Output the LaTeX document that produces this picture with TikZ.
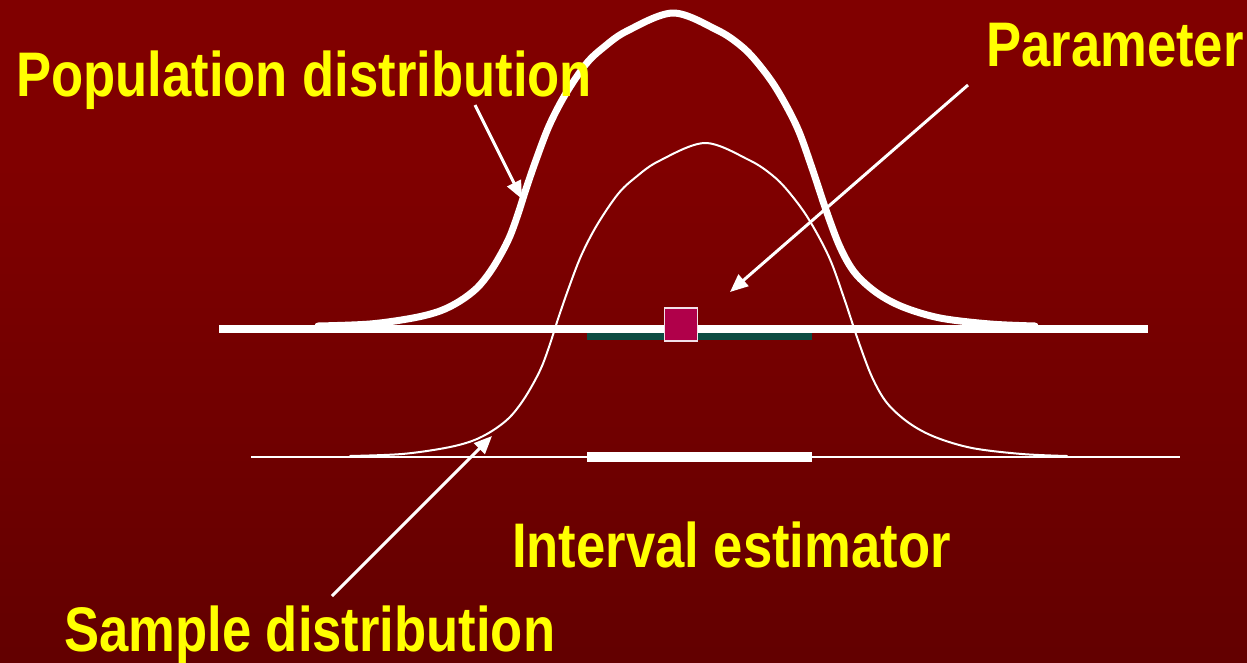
\documentclass[tikz,border=0pt]{standalone}
\usepackage{fontspec}
\newfontfamily\labfont[FakeStretch=0.835]{Liberation Sans}
\usetikzlibrary{arrows.meta}
\definecolor{labyellow}{RGB}{255,255,0}
\definecolor{tealbar}{RGB}{12,76,66}
\definecolor{sqfill}{RGB}{176,0,74}
\definecolor{sqedge}{RGB}{242,224,232}
\pgfdeclareverticalshading{bgshade}{100bp}{rgb(0bp)=(0.31,0,0); rgb(62bp)=(0.5,0,0); rgb(100bp)=(0.5,0,0)}
\tikzset{
  lab/.style={anchor=base west, inner sep=0pt, text=labyellow, font=\labfont\bfseries\fontsize{63}{70}\selectfont},
  pointer/.style={draw=white, line width=3pt, -{Triangle[length=18pt,width=15pt]}},
  bell/.pic={
    \draw[white, line cap=round, line join=round, pic actions] plot[smooth, tension=0.55] coordinates {
      (318,326) (370,324) (413,318) (440,311) (460,301) (477,288) (490,272) (501,254)
      (510,236) (518,214) (526,189) (536,160) (549,126) (565,95) (586,64) (604,47)
      (627,31) (673,13)
      (717,30) (740,45) (756,61) (776,88) (797,127) (812,168) (826,210) (840,247)
      (855,273) (877,293) (903,307) (940,318) (990,324) (1035,326)};
  }
}
\begin{document}
\begin{tikzpicture}[x=1pt,y=-1pt]
\useasboundingbox (0,0) rectangle (1247,662);
\fill[shading=bgshade] (0,0) rectangle (1247,662);
% upper axis and teal bar
\coordinate (tealL) at (587,336.5);
\coordinate (tealR) at (812,336.5);
\draw[tealbar, line width=7pt] (tealL) -- (tealR);
\coordinate (axL) at (219,329);
\coordinate (axR) at (1148,329);
\draw[white, line width=8pt] (axL) -- (axR);
% lower axis and interval bar
\coordinate (lowL) at (251,457);
\coordinate (lowR) at (1180,457);
\draw[white, line width=2pt] (lowL) -- (lowR);
\coordinate (intL) at (587,457);
\coordinate (intR) at (812,457);
\draw[white, line width=10pt] (intL) -- (intR);
% curves
\pic[line width=7pt] at (0,0) {bell};
\pic[line width=2pt] at (32,130) {bell};
% parameter square
\node[draw=sqedge, fill=sqfill, line width=1.5pt, minimum size=33pt, inner sep=0pt] (param) at (681,324.5) {};
% arrows
\coordinate (a1s) at (475,105);
\coordinate (a1e) at (522,199);
\draw[pointer] (a1s) -- (a1e);
\coordinate (a2s) at (968,85);
\coordinate (a2e) at (730,292);
\draw[pointer] (a2s) -- (a2e);
\coordinate (a3s) at (332,596);
\coordinate (a3e) at (492,436);
\draw[pointer] (a3s) -- (a3e);
% labels
\node[lab] (popl) at (16,96) {Population distribution};
\node[lab] (parl) at (986,66) {Parameter};
\node[lab] (intl) at (512,567) {Interval estimator};
\node[lab] (saml) at (64,651) {Sample distribution};
\end{tikzpicture}
\end{document}
